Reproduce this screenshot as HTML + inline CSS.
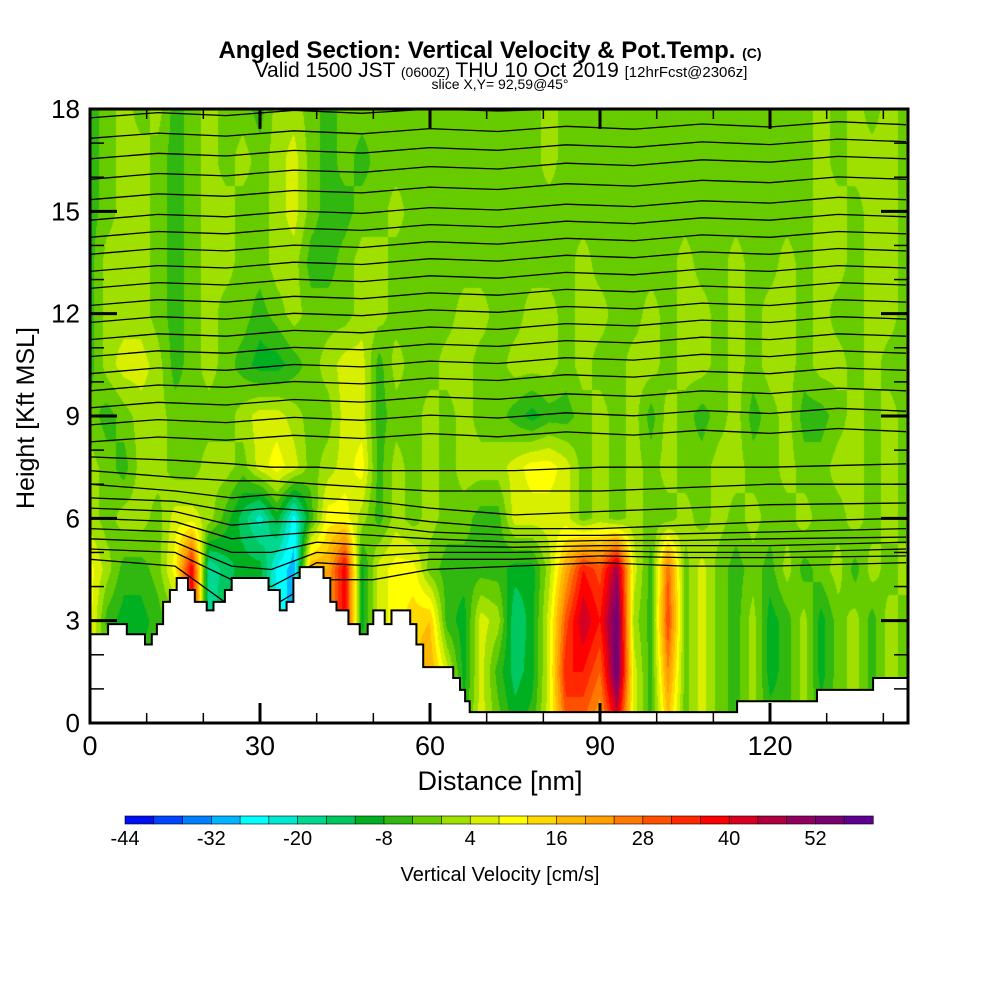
<!DOCTYPE html>
<html><head><meta charset="utf-8">
<style>
html,body{margin:0;padding:0;background:#fff;}
#wrap{position:relative;width:1000px;height:1000px;overflow:hidden;font-family:"Liberation Sans",sans-serif;}
canvas{position:absolute;left:90px;top:109px;}
svg{position:absolute;left:0;top:0;}
</style></head>
<body>
<div id="wrap">
<canvas id="field" width="818" height="614"></canvas>
<svg id="ov" width="1000" height="1000">
<text x="490" y="58" text-anchor="middle" font-size="24" font-weight="bold">Angled Section: Vertical Velocity &amp; Pot.Temp. <tspan font-size="14">(C)</tspan></text>
<text x="501" y="77" text-anchor="middle" font-size="21">Valid 1500 JST <tspan font-size="14">(0600Z)</tspan> THU 10 Oct 2019 <tspan font-size="15">[12hrFcst@2306z]</tspan></text>
<text x="500" y="89" text-anchor="middle" font-size="14">slice X,Y= 92,59@45°</text>
<text x="500" y="790" text-anchor="middle" font-size="27">Distance [nm]</text>
<text transform="translate(34,418) rotate(-90)" text-anchor="middle" font-size="25">Height [Kft MSL]</text>
<text x="500" y="881" text-anchor="middle" font-size="20">Vertical Velocity [cm/s]</text>
</svg>
</div>
<script>
// ---- data ----
const xGrid = [0,3,6,9,12,15,18,21,24,27,30,33,36,39,42,45,48,51,54,57,60,63,66,69,72,75,78,81,84,87,90,93,96,99,102,105,108,111,114,117,120,123,126,129,132,135,138,141,144];
const hGrid = [0,1.5,3,4.5,6,7.5,9,10.5,12,13.5,15,16.5,18];
const w0 = [2,2,-6,-6,-6,2,10,-10,-10,-10,-10,-14,-14,10,10,20,-6,6,10,14,16,6,-6,6,-2,-10,-6,6,28,28,20,40,6,-6,16,-2,6,-2,-6,2,-6,-6,2,-6,-2,2,-6,2,-2];
const w1 = [2,2,-6,-6,-6,2,10,-10,-10,-10,-10,-14,-14,10,10,20,-6,6,10,16,20,6,-10,6,-6,-14,-10,6,36,36,28,56,6,-6,24,-2,6,-2,-6,2,-10,-6,2,-10,-2,2,-6,2,-2];
const w2 = [10,-6,-10,-10,-6,-2,40,-20,-10,-10,-10,-25,-30,20,20,40,-10,6,10,14,16,-6,-10,6,2,-16,-10,6,30,44,36,56,2,-6,32,-2,6,-2,-6,2,-10,-6,2,-10,-2,2,-6,2,-2];
const w3 = [10,2,-6,-6,-2,10,40,-20,-14,-10,-10,-25,-30,20,20,40,-10,6,10,10,-2,-6,-6,-6,-6,-10,-10,2,20,36,30,48,6,-6,28,-2,6,-2,-6,-2,-6,2,-6,-2,2,-6,2,-2,2];
const w4 = [2,-2,2,2,-2,6,6,2,-6,-14,-22,-10,-26,-6,10,10,2,-6,2,-2,2,-2,-2,-6,-6,6,6,6,6,-2,2,-2,2,-2,-2,2,-2,2,-2,2,-2,-2,2,-2,-2,2,-2,2,-2];
const w5 = [2,-2,-6,2,2,-2,-2,2,2,-2,6,10,6,-2,2,6,10,-6,2,-2,2,-2,2,2,2,6,10,10,6,-2,2,-2,2,-2,2,-2,-2,2,2,-2,-2,2,-2,-2,2,2,-2,2,-2];
const w6 = [-2,-6,-2,2,2,-2,-2,-2,-2,2,6,6,2,-2,-2,6,6,-6,-2,-2,2,-2,2,-2,-2,-6,-10,-6,-6,-2,2,-2,2,-6,2,-2,-6,-2,2,-6,-2,2,-6,-6,-2,2,-2,2,-2];
const w7 = [-6,2,6,6,2,-6,-2,2,-2,-6,-10,-10,-6,-2,2,6,6,-6,2,-2,-2,2,2,-2,-2,2,2,2,-2,2,-2,-2,2,2,-2,2,2,-2,2,-2,2,2,-2,2,2,-2,2,-2,-2];
const w8 = [-6,2,2,2,-2,-6,-2,2,-2,-2,-6,-2,2,-2,-2,-2,2,2,-2,-2,-2,-2,2,2,-2,-2,2,2,-2,2,2,-2,-2,2,-2,2,2,-2,2,-2,2,2,-2,2,-2,-2,2,2,-2];
const w9 = [-6,2,2,2,-2,-6,-2,2,2,-2,-2,2,2,-6,-6,-2,2,2,-2,-2,-2,-2,-2,-2,-2,-2,-2,-2,-2,2,-2,-2,-2,-2,-2,2,-2,-2,2,-2,-2,2,-2,2,2,-2,2,2,-2];
const w10 = [-6,-2,2,2,-2,-6,-2,2,2,-2,-2,2,6,-2,-6,-6,-2,-2,2,-2,-2,-2,-2,-2,-2,-2,-2,-2,-2,-2,-2,-2,-2,-2,-2,-2,-2,-2,-2,-2,-2,-2,-2,2,2,-2,2,2,-2];
const w11 = [-6,-2,2,2,-2,-6,-2,2,-2,2,-2,2,6,-2,-6,-2,-6,-2,-2,-2,-2,-2,-2,-2,-2,-2,-2,2,-2,-2,-2,-2,-2,-2,-2,-2,-2,-2,-2,-2,-2,-2,-2,2,-2,2,2,2,-2];
const w12 = [-6,-2,2,-2,2,-6,-2,2,-2,-2,-6,2,2,-2,-6,-2,-2,-2,-2,-2,-2,-2,-2,-2,-2,-2,-2,2,-2,-2,-2,-2,-2,-2,-2,-2,-2,-2,-2,-2,-2,-2,-2,2,-2,2,-2,2,-2];
const wRows = [w0,w1,w2,w3,w4,w5,w6,w7,w8,w9,w10,w11,w12];

const terrainX = [0,3.2,6.5,9.7,10.9,11.8,12.9,14.1,15.3,17.3,18.5,20.6,21.8,23.8,25,31.5,33.5,34.7,35.9,37,41.2,42.4,43.5,45.6,47.6,49,50,52,53.2,56.5,57.6,58.8,64.1,65.3,66.2,67,114.2,128.3,138.2];
const terrainH = [2.6,2.9,2.6,2.3,2.6,2.9,3.55,3.9,4.25,3.9,3.55,3.3,3.55,3.9,4.25,3.9,3.3,3.55,4.25,4.57,4.25,3.55,3.3,2.9,2.6,2.9,3.3,2.9,3.3,2.9,2.3,1.64,1.32,0.97,0.64,0.32,0.64,0.97,1.32];

const thetaX = [0,15,25,32,40,50,60,75,90,105,120,144];
const thetaLow = [
 [4.8,4.6,3.4,3.4,4.2,4.2,4.5,4.6,4.7,4.6,4.6,4.7],
 [5.1,5.0,4.2,4.0,4.7,4.6,4.8,4.8,4.9,4.85,4.85,4.9],
 [5.4,5.3,4.6,4.5,5.0,4.9,5.0,5.0,5.05,5.0,5.0,5.1],
 [5.7,5.6,5.0,5.0,5.3,5.2,5.2,5.15,5.2,5.2,5.2,5.3],
 [6.0,5.9,5.4,5.5,5.6,5.5,5.4,5.3,5.35,5.35,5.4,5.45],
 [6.3,6.2,5.8,5.9,5.9,5.8,5.6,5.5,5.5,5.55,5.6,5.7],
 [6.6,6.5,6.2,6.3,6.2,6.1,5.9,5.7,5.7,5.8,5.9,6.0],
 [7.0,6.8,6.6,6.7,6.6,6.5,6.3,6.1,6.2,6.3,6.4,6.45],
 [7.4,7.2,7.1,7.1,7.0,6.9,6.8,6.8,6.8,6.9,7.0,7.0],
 [7.8,7.7,7.6,7.5,7.5,7.4,7.4,7.4,7.5,7.5,7.5,7.6]
];
const thetaUpLeft  = [8.3,8.8,9.3,9.8,10.3,10.8,11.3,11.8,12.3,12.8,13.3,13.8,14.3,14.8,15.4,16.0,16.6,17.2,17.8];
const thetaUpRight = [8.6,9.2,9.8,10.4,10.9,11.4,11.9,12.4,12.9,13.4,13.9,14.4,14.9,15.4,16.0,16.6,17.1,17.6,18.2];

const cbLabels = [-44,-32,-20,-8,4,16,28,40,52];
const colors = ['#0010f0','#0044ff','#0080ff','#00b4ff','#00ffff','#00e8d0','#00d890','#00c860','#00b020','#30b810','#66cc00','#a0e000','#d8f000','#ffff00','#ffd800','#ffb800','#ffa000','#ff7800','#ff5000','#ff2800','#ff0000','#d80020','#b00040','#900060','#780070','#600090'];

// ---- axes ----
const PL=90, PR=908, PT=109, PB=723, XMAX=144.35, YMAX=18;
const X = x => PL + x*(PR-PL)/XMAX;
const Y = h => PB - h*(PB-PT)/YMAX;
const binOf = v => Math.max(0, Math.min(25, Math.floor((v+44)/4)));

// ---- heatmap ----
function sample(x,h){
  let i = Math.min(xGrid.length-2, Math.max(0, Math.floor(x/3)));
  let j = Math.min(hGrid.length-2, Math.max(0, Math.floor(h/1.5)));
  let tx = Math.max(0,Math.min(1,(x-xGrid[i])/(xGrid[i+1]-xGrid[i])));
  let ty = Math.max(0,Math.min(1,(h-hGrid[j])/(hGrid[j+1]-hGrid[j])));
  const g=(r,c)=>{const a=wRows[r]; const v=a[c]; return v===undefined?-2:v;};
  const v0 = g(j,i)*(1-tx)+g(j,i+1)*tx;
  const v1 = g(j+1,i)*(1-tx)+g(j+1,i+1)*tx;
  return v0*(1-ty)+v1*ty;
}
const rgb = colors.map(c=>[parseInt(c.substr(1,2),16),parseInt(c.substr(3,2),16),parseInt(c.substr(5,2),16)]);
const cv=document.getElementById('field'), ctx=cv.getContext('2d');
const img=ctx.createImageData(818,614);
for(let py=0;py<614;py++){
  const h=(PB-(PT+py+0.5))*YMAX/(PB-PT);
  for(let px=0;px<818;px++){
    const x=(px+0.5)*XMAX/(PR-PL);
    const c=rgb[binOf(sample(x,h))];
    const k=(py*818+px)*4;
    img.data[k]=c[0];img.data[k+1]=c[1];img.data[k+2]=c[2];img.data[k+3]=255;
  }
}
ctx.putImageData(img,0,0);

// ---- svg overlay ----
const NS='http://www.w3.org/2000/svg', svg=document.getElementById('ov');
function mk(tag,attrs,parent){const e=document.createElementNS(NS,tag);for(const k in attrs)e.setAttribute(k,attrs[k]);(parent||svg).appendChild(e);return e;}

const gTheta=mk('g',{});


thetaLow.forEach(line=>{
  const p=mk('polyline',{points:line.map((h,k)=>X(thetaX[k]).toFixed(1)+','+Y(h).toFixed(1)).join(' '),fill:'none',stroke:'#000','stroke-width':1.3},gTheta);
  
  
});
thetaUpLeft.forEach((hl,k)=>{
  const hr=thetaUpRight[k];
  const pts=[];
  for(let s=0;s<=12;s++){const x=s*12; const h=hl+(hr-hl)*x/144+((s%2)?0.06:-0.06); pts.push(X(x).toFixed(1)+','+Y(Math.min(h,18)).toFixed(1));}
  const p=mk('polyline',{points:pts.join(' '),fill:'none',stroke:'#000','stroke-width':1.3},gTheta);
  
  
});

// terrain
let d='M'+X(0)+','+Y(0)+' L'+X(0)+','+Y(terrainH[0]);
for(let k=0;k<terrainX.length;k++){
  const xe = k+1<terrainX.length?terrainX[k+1]:XMAX;
  d+=' L'+X(terrainX[k]).toFixed(1)+','+Y(terrainH[k]).toFixed(1)+' L'+X(xe).toFixed(1)+','+Y(terrainH[k]).toFixed(1);
}
d+=' L'+X(XMAX)+','+Y(0)+' Z';
const terr=mk('path',{d:d,fill:'#fff',stroke:'#000','stroke-width':2});



// frame
const frame=mk('rect',{x:PL,y:PT,width:PR-PL,height:PB-PT,fill:'none',stroke:'#000','stroke-width':3});



// y ticks
for(let h=0;h<=18;h++){
  const major=h%3===0, L=major?27:14, y=Y(h);
  mk('line',{x1:PL,x2:PL+L,y1:y,y2:y,stroke:'#000','stroke-width':major?3:1.5});
  mk('line',{x1:PR,x2:PR-L,y1:y,y2:y,stroke:'#000','stroke-width':major?3:1.5});
  if(major){
    const t=mk('text',{x:80,y:y+9,'text-anchor':'end','font-size':26});
    t.textContent=h;
    
    
  }
}
// x ticks
for(let x=0;x<=140;x+=10){
  const major=x%30===0, L=major?20:10, xx=X(x);
  mk('line',{x1:xx,x2:xx,y1:PB,y2:PB-L,stroke:'#000','stroke-width':major?3:1.5});
  mk('line',{x1:xx,x2:xx,y1:PT,y2:PT+L,stroke:'#000','stroke-width':major?3:1.5});
  if(major){
    const t=mk('text',{x:xx,y:755,'text-anchor':'middle','font-size':27});
    t.textContent=x;
    
    
  }
}

// colorbar
const CB0=125, CB1=873, bw=(CB1-CB0)/colors.length;
colors.forEach((c,k)=>{
  const r=mk('rect',{x:CB0+k*bw,y:816,width:bw+0.3,height:8,fill:c,stroke:'#000','stroke-width':0.6});
  
  
});
cbLabels.forEach(v=>{
  const t=mk('text',{x:CB0+(v+44)/4*bw,y:845,'text-anchor':'middle','font-size':20});
  t.textContent=v;
  
  
});
</script>
</body></html>
